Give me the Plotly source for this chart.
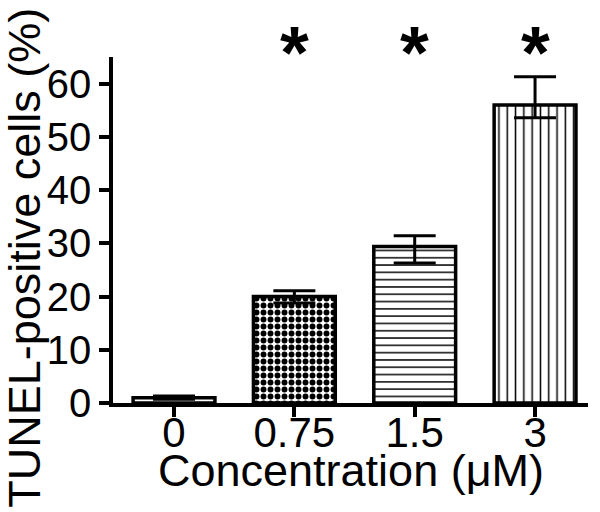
import plotly.graph_objects as go

categories = ["0", "0.75", "1.5", "3"]
values = [1.0, 20.0, 29.4, 56.0]
err_plus = [0.3, 1.1, 2.0, 5.3]
err_minus = [0.3, 1.2, 3.1, 2.4]
patterns = ["", ".", "-", "|"]
star_labels = ["", "*", "*", "*"]
y_ticks = [0, 10, 20, 30, 40, 50, 60]

FONT = "Liberation Sans, Arial, sans-serif"

fig = go.Figure()
fig.add_trace(go.Bar(
    x=categories,
    y=values,
    width=0.68,
    marker=dict(
        color="white",
        line=dict(color="black", width=3.5),
        pattern=dict(shape=patterns, fgcolor="black", bgcolor="white",
                     size=[7, 7, 7.3, 8.3], solidity=[0.5, 0.55, 0.2, 0.18],
                     fillmode="replace"),
    ),
    error_y=dict(type="data", symmetric=False, array=err_plus,
                 arrayminus=err_minus, color="black", thickness=3, width=21),
    showlegend=False,
))

for i, s in enumerate(star_labels):
    if s:
        fig.add_annotation(x=i, y=1.14, xref="x", yref="paper", text="<b>" + s + "</b>",
                           showarrow=False, yanchor="top",
                           font=dict(family=FONT, size=74, color="black"))

fig.add_annotation(x=-0.185, y=0.42, xref="paper", yref="paper",
                   text="TUNEL-positive cells (%)", textangle=-90,
                   showarrow=False, xanchor="center", yanchor="middle",
                   font=dict(family=FONT, size=45, color="black"))
fig.add_annotation(x=0.5, y=-0.194, xref="paper", yref="paper",
                   text="Concentration (μM)", showarrow=False,
                   xanchor="center", yanchor="middle",
                   font=dict(family=FONT, size=45, color="black"))

fig.update_layout(
    width=600, height=512,
    margin=dict(l=113, r=12, t=57, b=109),
    paper_bgcolor="white", plot_bgcolor="white",
    font=dict(family=FONT, color="black"),
    xaxis=dict(type="category", range=[-0.507, 3.44], showline=True,
               linecolor="black", linewidth=3.5, ticks="outside",
               ticklen=10, tickwidth=3.5, tickcolor="black",
               ticklabelstandoff=-20,
               tickfont=dict(size=42), showgrid=False, zeroline=False),
    yaxis=dict(range=[0, 65], tickvals=y_ticks, showline=True,
               linecolor="black", linewidth=3.5, ticks="outside",
               ticklen=10, tickwidth=3.5, tickcolor="black",
               tickfont=dict(size=40), showgrid=False, zeroline=False),
)

fig.write_html("out.html", config={"displayModeBar": False},
               post_script="document.body.style.margin='0';")
